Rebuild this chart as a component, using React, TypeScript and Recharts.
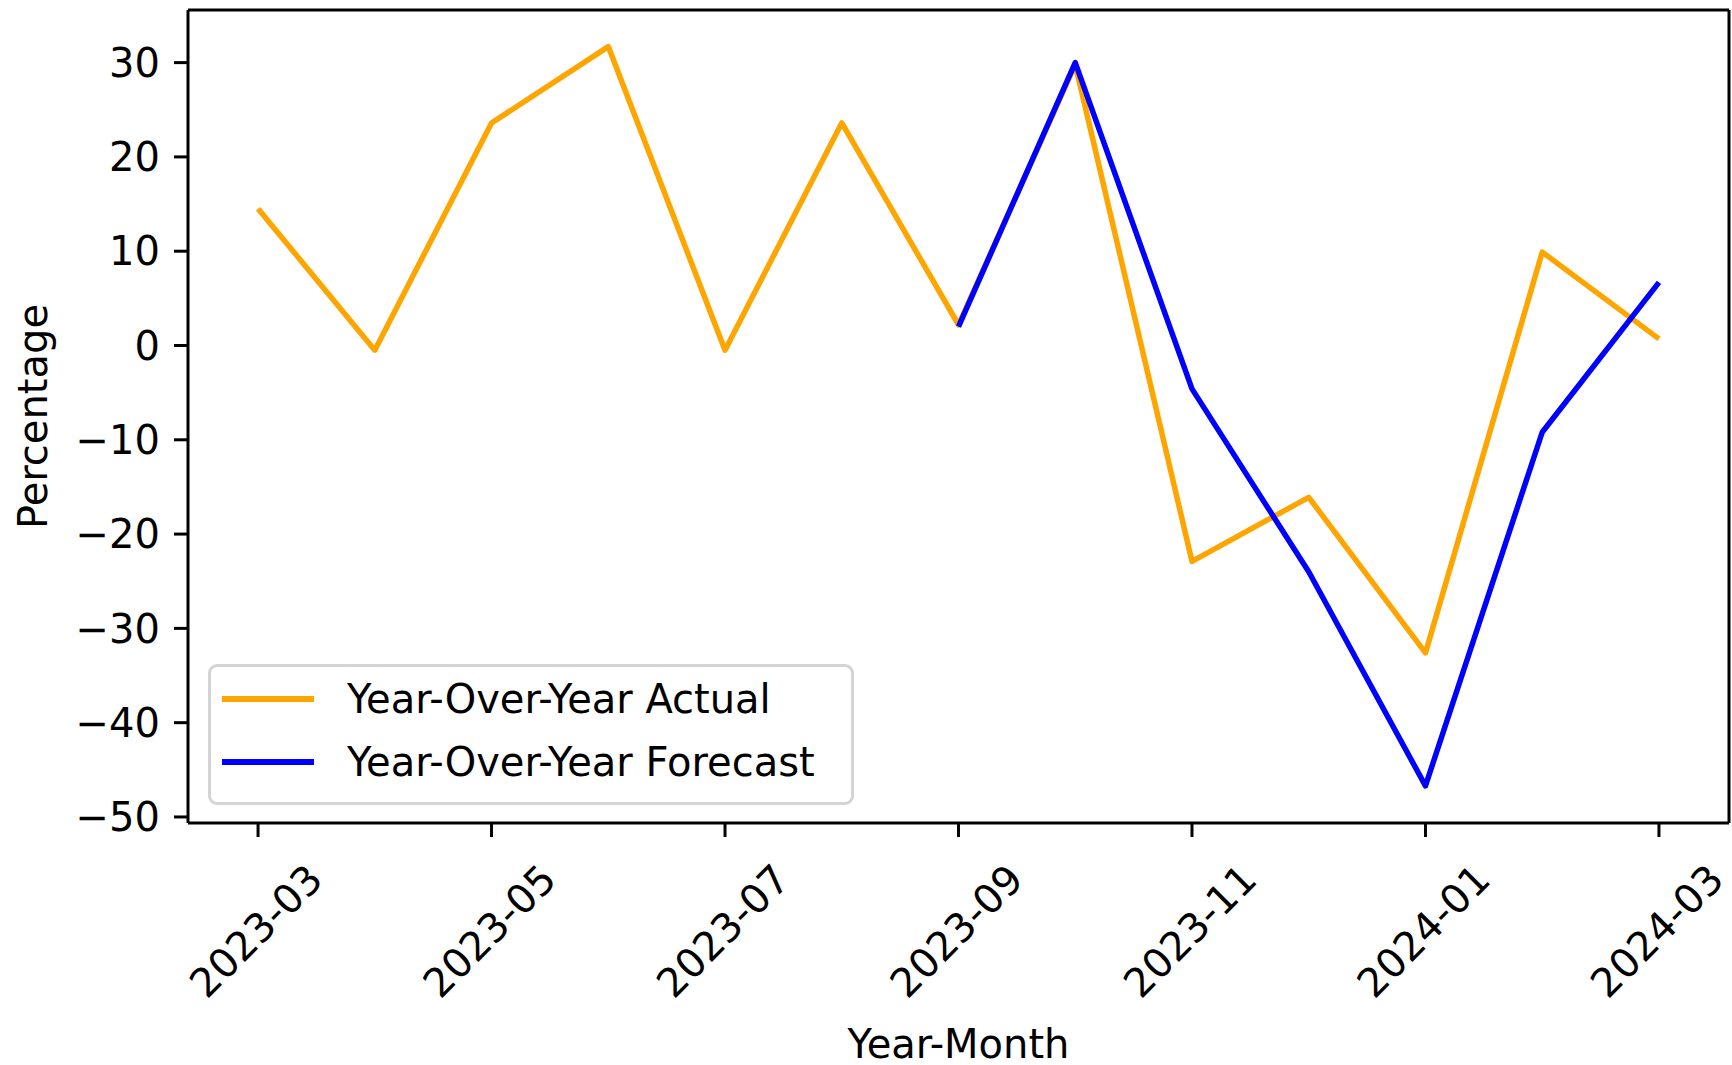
import * as React from "react";
import { LineChart, Line, XAxis, YAxis, Legend, Label, ReferenceLine } from "recharts";

const FONT = '"DejaVu Sans", sans-serif';

const MONTHS = [
	"2023-03", "2023-04", "2023-05", "2023-06", "2023-07", "2023-08", "2023-09",
	"2023-10", "2023-11", "2023-12", "2024-01", "2024-02", "2024-03",
];
const YOY_ACTUAL = [14.5, -0.5, 23.6, 31.7, -0.5, 23.6, 2.2, 29.8, -22.9, -16.1, -32.6, 9.9, 0.7];
const YOY_FORECAST: (number | null)[] = [null, null, null, null, null, null, 2.0, 30.0, -4.6, -24.0, -46.7, -9.2, 6.7];

const MONTH_TICKS = [0, 2, 4, 6, 8, 10, 12];
const PCT_TICKS = [-50, -40, -30, -20, -10, 0, 10, 20, 30];

// matplotlib-style 5% margins around the data
const X_DOMAIN: [number, number] = [-0.6, 12.6];
const Y_DOMAIN: [number, number] = [-50.64, 35.58];

const data = MONTHS.map((m, i) => ({
	idx: i,
	month: m,
	actual: YOY_ACTUAL[i],
	forecast: YOY_FORECAST[i],
}));

const axisStroke = { stroke: "#000", strokeWidth: 3 };

function MonthTick(props: any) {
	const { x, y, payload } = props;
	const label = MONTHS[payload.value] ?? "";
	const cx = x - 2;
	const cy = y + 80;
	return (
		<text
			x={cx}
			y={cy}
			transform={`rotate(-45, ${cx}, ${cy})`}
			textAnchor="middle"
			dominantBaseline="central"
			fontFamily={FONT}
			fontSize={40}
			fill="#000"
		>
			{label}
		</text>
	);
}

function LegendBox(props: any) {
	const items = props.payload ?? [];
	return (
		<div
			style={{
				boxSizing: "border-box",
				position: "relative",
				width: 646,
				height: 141,
				border: "3px solid #d4d4d4",
				borderRadius: 9,
				background: "rgba(255,255,255,0.8)",
				fontFamily: FONT,
				fontSize: 40,
				color: "#000",
			}}
		>
			{items.map((e: any, i: number) => (
				<div
					key={e.value}
					style={{
						position: "absolute",
						left: 0,
						top: 2 + i * 63,
						height: 60,
						display: "flex",
						alignItems: "center",
						whiteSpace: "nowrap",
					}}
				>
					<span style={{ display: "inline-block", marginLeft: 11, width: 92, height: 6, background: e.color }} />
					<span style={{ marginLeft: 33 }}>{e.value}</span>
				</div>
			))}
		</div>
	);
}

export default function App() {
	return (
		<div style={{ position: "absolute", left: 0, top: 0, width: 1732, height: 1065, background: "#fff" }}>
			<LineChart width={1732} height={1065} data={data} margin={{ top: 10, right: 3, bottom: 0, left: 0 }}>
				<XAxis
					dataKey="idx"
					type="number"
					domain={X_DOMAIN}
					ticks={MONTH_TICKS}
					interval={0}
					allowDataOverflow
					height={242}
					tickSize={14}
					tickMargin={14}
					tickLine={axisStroke}
					axisLine={axisStroke}
					tick={<MonthTick />}
				>
					<Label
						content={(p: any) => {
							const vb = p.viewBox ?? { x: 188, y: 823, width: 1541, height: 242 };
							return (
								<text
									x={vb.x + vb.width / 2}
									y={vb.y + 221}
									textAnchor="middle"
									dominantBaseline="central"
									fontFamily={FONT}
									fontSize={40}
									fill="#000"
								>
									Year-Month
								</text>
							);
						}}
					/>
				</XAxis>
				<YAxis
					type="number"
					domain={Y_DOMAIN}
					ticks={PCT_TICKS}
					interval={0}
					allowDataOverflow
					width={188}
					tickSize={14}
					tickMargin={14}
					tickLine={axisStroke}
					axisLine={axisStroke}
					tick={{ fontFamily: FONT, fontSize: 40, fill: "#000" }}
					tickFormatter={(v: number) => String(v).replace("-", "\u2212")}
				>
					<Label
						content={(p: any) => {
							const vb = p.viewBox ?? { x: 0, y: 10, width: 188, height: 813 };
							const cx = vb.x + 33;
							const cy = vb.y + vb.height / 2;
							return (
								<text
									x={cx}
									y={cy}
									transform={`rotate(-90, ${cx}, ${cy})`}
									textAnchor="middle"
									dominantBaseline="central"
									fontFamily={FONT}
									fontSize={40}
									fill="#000"
								>
									Percentage
								</text>
							);
						}}
					/>
				</YAxis>
				{/* top and right spines of the frame */}
				<ReferenceLine y={Y_DOMAIN[1]} stroke="#000" strokeWidth={3} />
				<ReferenceLine x={X_DOMAIN[1]} stroke="#000" strokeWidth={3} />
				<Legend
					layout="vertical"
					align="center"
					verticalAlign="middle"
					wrapperStyle={{ left: 208, top: 664, width: 646, height: 141 }}
					content={<LegendBox />}
				/>
				<Line
					type="linear"
					dataKey="actual"
					name="Year-Over-Year Actual"
					stroke="#FFA500"
					strokeWidth={5.5}
					strokeLinejoin="round"
					dot={false}
					activeDot={false}
					isAnimationActive={false}
				/>
				<Line
					type="linear"
					dataKey="forecast"
					name="Year-Over-Year Forecast"
					stroke="#0000FF"
					strokeWidth={5.5}
					strokeLinejoin="round"
					dot={false}
					activeDot={false}
					isAnimationActive={false}
				/>
			</LineChart>
		</div>
	);
}
